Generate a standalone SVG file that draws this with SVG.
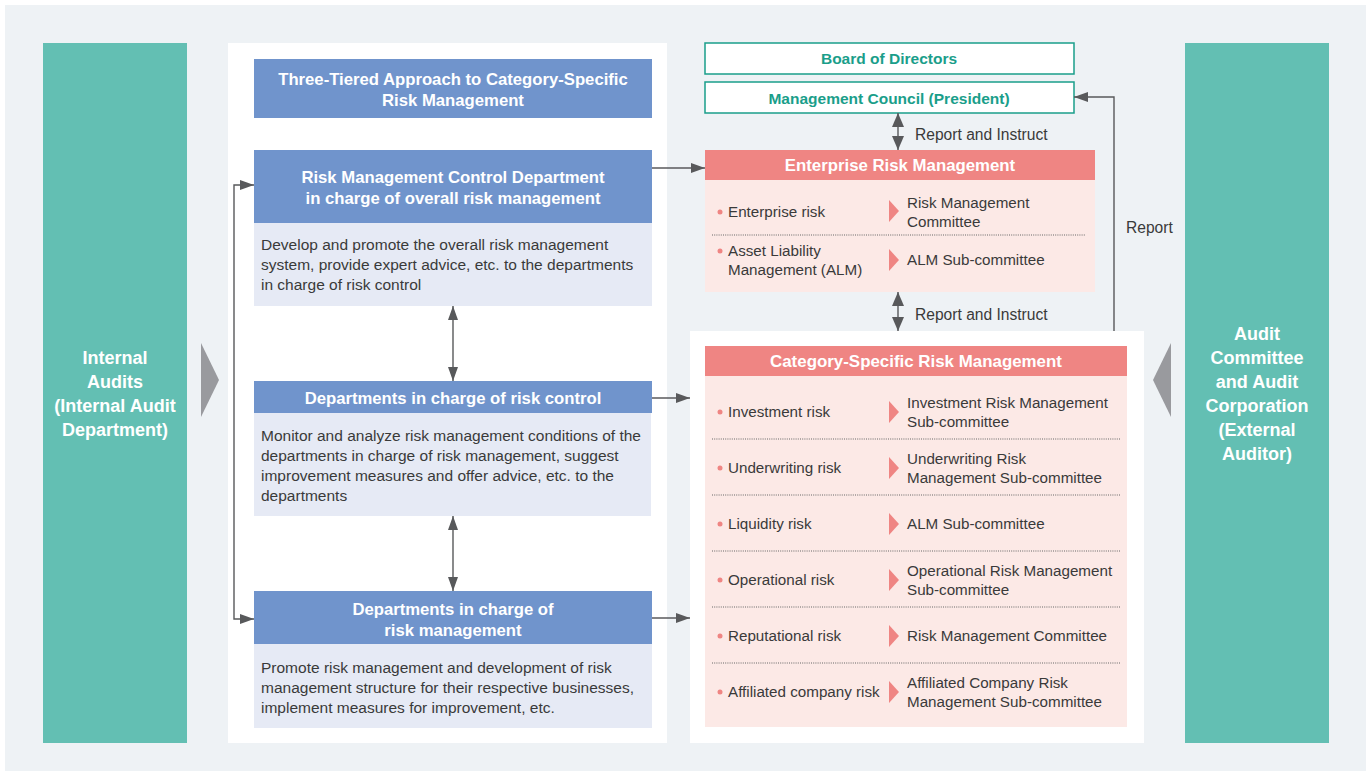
<svg xmlns="http://www.w3.org/2000/svg" width="1371" height="776" viewBox="0 0 1371 776">
<defs>
<marker id="ah" viewBox="0 0 14 10" refX="14" refY="5" markerWidth="14" markerHeight="10" markerUnits="userSpaceOnUse" orient="auto-start-reverse"><path d="M0,0 L14,5 L0,10 Z" fill="#58595b"/></marker>
<marker id="ahb" viewBox="0 0 14 12" refX="14" refY="6" markerWidth="14" markerHeight="12" markerUnits="userSpaceOnUse" orient="auto-start-reverse"><path d="M0,0 L14,6 L0,12 Z" fill="#58595b"/></marker>
</defs>
<style>
text{font-family:"Liberation Sans",Arial,sans-serif}
.wh{fill:#fff;font-weight:bold;text-anchor:middle}
.hd{font-size:16.7px}
.body{fill:#3a3a3a;font-size:15.5px}
.rt{fill:#3a3a3a;font-size:15.2px}
.lab{fill:#3a3a3a;font-size:15.6px}
.tl{fill:#1a9e8a;font-size:15.5px;font-weight:bold;text-anchor:middle}
.aud{font-size:18px}
.blue{fill:#7094cc}
.lb{fill:#e6eaf5}
.red{fill:#ef8583}
.pk{fill:#fce9e6}
.dot{stroke:#666;stroke-width:1;stroke-dasharray:1 1.2}
.bul{fill:#ef8583}
.con{stroke:#58595b;stroke-width:1.4;fill:none}
</style>
<rect x="5" y="5" width="1361" height="766" fill="#eef2f5"/>
<g id="internal-audits">
<rect x="43" y="43" width="144" height="700" fill="#63bfb3"/>
<text class="wh aud" x="115" y="364">Internal</text>
<text class="wh aud" x="115" y="388">Audits</text>
<text class="wh aud" x="115" y="412">(Internal Audit</text>
<text class="wh aud" x="115" y="436">Department)</text>
<path d="M201,343 L219,380 L201,417 Z" fill="#999a9e"/>
</g>
<g id="external-audit">
<rect x="1185" y="43" width="144" height="700" fill="#63bfb3"/>
<text class="wh aud" x="1257" y="340">Audit</text>
<text class="wh aud" x="1257" y="364">Committee</text>
<text class="wh aud" x="1257" y="388">and Audit</text>
<text class="wh aud" x="1257" y="412">Corporation</text>
<text class="wh aud" x="1257" y="436">(External</text>
<text class="wh aud" x="1257" y="460">Auditor)</text>
<path d="M1171,343 L1153,380 L1171,417 Z" fill="#999a9e"/>
</g>
<rect x="228" y="43" width="439" height="700" fill="#fff"/>
<rect x="690" y="331" width="454" height="412" fill="#fff"/>
<g id="title">
<rect class="blue" x="254" y="59" width="398" height="59"/>
<text class="wh hd" x="453" y="85">Three-Tiered Approach to Category-Specific</text>
<text class="wh hd" x="453" y="106">Risk Management</text>
</g>
<g id="risk-control-dept">
<rect class="blue" x="254" y="150" width="398" height="73"/>
<rect class="lb" x="254" y="223" width="398" height="83"/>
<text class="wh hd" x="453" y="183">Risk Management Control Department</text>
<text class="wh hd" x="453" y="204">in charge of overall risk management</text>
<text class="body" x="261" y="250">Develop and promote the overall risk management</text>
<text class="body" x="261" y="270">system, provide expert advice, etc. to the departments</text>
<text class="body" x="261" y="290">in charge of risk control</text>
</g>
<g id="risk-control">
<rect class="blue" x="254" y="381" width="398" height="32"/>
<rect class="lb" x="254" y="413" width="397" height="103"/>
<text class="wh hd" x="453" y="404">Departments in charge of risk control</text>
<text class="body" x="261" y="441">Monitor and analyze risk management conditions of the</text>
<text class="body" x="261" y="461">departments in charge of risk management, suggest</text>
<text class="body" x="261" y="481">improvement measures and offer advice, etc. to the</text>
<text class="body" x="261" y="501">departments</text>
</g>
<g id="risk-management">
<rect class="blue" x="254" y="591" width="398" height="53"/>
<rect class="lb" x="254" y="644" width="398" height="84"/>
<text class="wh hd" x="453" y="615">Departments in charge of</text>
<text class="wh hd" x="453" y="636">risk management</text>
<text class="body" x="261" y="673">Promote risk management and development of risk</text>
<text class="body" x="261" y="693">management structure for their respective businesses,</text>
<text class="body" x="261" y="713">implement measures for improvement, etc.</text>
</g>
<g id="board">
<rect x="705" y="43" width="369" height="31" fill="#fff" stroke="#1a9e8a" stroke-width="1.5"/>
<text class="tl" x="889" y="64">Board of Directors</text>
</g>
<g id="council">
<rect x="705" y="82" width="369" height="31" fill="#fff" stroke="#1a9e8a" stroke-width="1.5"/>
<text class="tl" x="889" y="104">Management Council (President)</text>
</g>
<g id="erm">
<rect class="red" x="705" y="150" width="390" height="30"/>
<rect class="pk" x="705" y="180" width="390" height="112"/>
<text class="wh" font-size="16.8" x="900" y="171">Enterprise Risk Management</text>
<circle class="bul" cx="720" cy="212" r="2.5"/>
<text class="rt" x="728" y="217">Enterprise risk</text>
<path class="bul" d="M889,200 L899,211 L889,222 Z"/>
<text class="rt" x="907" y="208">Risk Management</text>
<text class="rt" x="907" y="227">Committee</text>
<line class="dot" x1="712" y1="235" x2="1085" y2="235"/>
<circle class="bul" cx="720" cy="251" r="2.5"/>
<text class="rt" x="728" y="256">Asset Liability</text>
<text class="rt" x="728" y="275">Management (ALM)</text>
<path class="bul" d="M889,249 L899,260 L889,271 Z"/>
<text class="rt" x="907" y="265">ALM Sub-committee</text>
</g>
<g id="csrm">
<rect class="red" x="705" y="346" width="422" height="30"/>
<rect class="pk" x="705" y="376" width="422" height="351"/>
<text class="wh" font-size="16.9" x="916" y="367">Category-Specific Risk Management</text>
<line class="dot" x1="712" y1="439" x2="1120" y2="439"/>
<line class="dot" x1="712" y1="495" x2="1120" y2="495"/>
<line class="dot" x1="712" y1="551" x2="1120" y2="551"/>
<line class="dot" x1="712" y1="607" x2="1120" y2="607"/>
<line class="dot" x1="712" y1="663" x2="1120" y2="663"/>
<circle class="bul" cx="720" cy="412" r="2.5"/>
<text class="rt" x="728" y="417">Investment risk</text>
<path class="bul" d="M889,401 L899,412 L889,423 Z"/>
<text class="rt" x="907" y="408">Investment Risk Management</text>
<text class="rt" x="907" y="427">Sub-committee</text>
<circle class="bul" cx="720" cy="468" r="2.5"/>
<text class="rt" x="728" y="473">Underwriting risk</text>
<path class="bul" d="M889,457 L899,468 L889,479 Z"/>
<text class="rt" x="907" y="464">Underwriting Risk</text>
<text class="rt" x="907" y="483">Management Sub-committee</text>
<circle class="bul" cx="720" cy="524" r="2.5"/>
<text class="rt" x="728" y="529">Liquidity risk</text>
<path class="bul" d="M889,513 L899,524 L889,535 Z"/>
<text class="rt" x="907" y="529">ALM Sub-committee</text>
<circle class="bul" cx="720" cy="580" r="2.5"/>
<text class="rt" x="728" y="585">Operational risk</text>
<path class="bul" d="M889,569 L899,580 L889,591 Z"/>
<text class="rt" x="907" y="576">Operational Risk Management</text>
<text class="rt" x="907" y="595">Sub-committee</text>
<circle class="bul" cx="720" cy="636" r="2.5"/>
<text class="rt" x="728" y="641">Reputational risk</text>
<path class="bul" d="M889,625 L899,636 L889,647 Z"/>
<text class="rt" x="907" y="641">Risk Management Committee</text>
<circle class="bul" cx="720" cy="692" r="2.5"/>
<text class="rt" x="728" y="697">Affiliated company risk</text>
<path class="bul" d="M889,681 L899,692 L889,703 Z"/>
<text class="rt" x="907" y="688">Affiliated Company Risk</text>
<text class="rt" x="907" y="707">Management Sub-committee</text>
</g>
<g id="connectors">
<path class="con" d="M254,185 H234 V619 H254" marker-start="url(#ah)" marker-end="url(#ah)"/>
<line class="con" x1="453" y1="306" x2="453" y2="381" marker-start="url(#ah)" marker-end="url(#ah)"/>
<line class="con" x1="453" y1="516" x2="453" y2="591" marker-start="url(#ah)" marker-end="url(#ah)"/>
<line class="con" x1="652" y1="168" x2="705" y2="168" marker-end="url(#ah)"/>
<line class="con" x1="652" y1="398" x2="690" y2="398" marker-end="url(#ah)"/>
<line class="con" x1="652" y1="618" x2="690" y2="618" marker-end="url(#ah)"/>
<line class="con" x1="898" y1="113" x2="898" y2="150" marker-start="url(#ahb)" marker-end="url(#ahb)"/>
<line class="con" x1="898" y1="292" x2="898" y2="331" marker-start="url(#ahb)" marker-end="url(#ahb)"/>
<path class="con" d="M1114,331 V97 H1074" marker-end="url(#ah)"/>
<text class="lab" x="915" y="140">Report and Instruct</text>
<text class="lab" x="915" y="320">Report and Instruct</text>
<text class="lab" x="1126" y="233">Report</text>
</g>
</svg>
